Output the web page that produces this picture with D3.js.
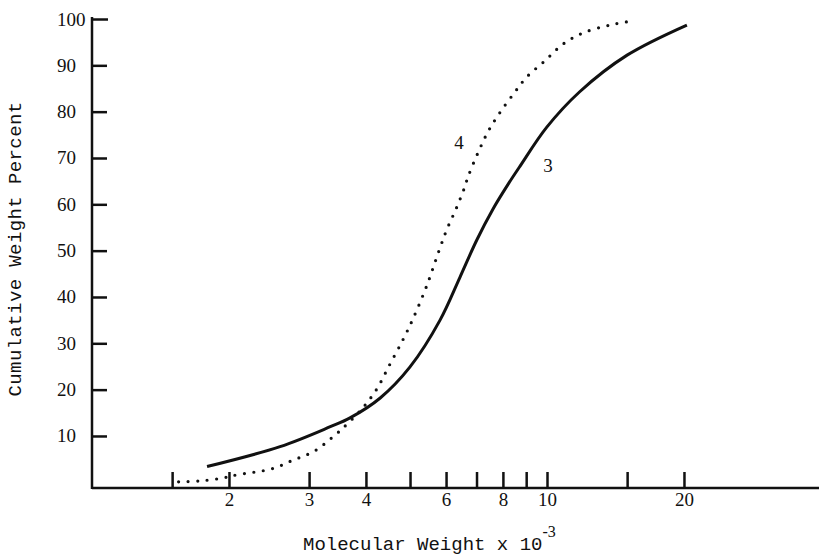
<!DOCTYPE html>
<html>
<head>
<meta charset="utf-8">
<script src="https://cdn.jsdelivr.net/npm/d3@7"></script>
<style>
  body { margin: 0; background: #fff; }
  svg { display: block; }
  .num { font-family: "Liberation Serif", serif; font-size: 19px; fill: #111; }
  .title { font-family: "Liberation Mono", monospace; font-size: 19px; fill: #111; }
</style>
</head>
<body>
<div class="chart"></div>
<script>
var svgWidth = 819;
var svgHeight = 557;

// curve 3 (solid) - molecular weight x 10^-3 and cumulative weight percent
var mw3 = [1.79, 2.59, 3.34, 3.69, 4.30, 5.00, 5.82, 6.44, 7.01, 7.61, 8.21, 8.72, 9.98, 11.8, 15.0, 20.3];
var cum3 = [3.4, 7.7, 12.0, 13.9, 18.2, 24.9, 35.0, 44.3, 52.3, 59.0, 64.3, 68.2, 76.6, 84.3, 92.2, 98.7];

// curve 4 (dotted)
var mw4 = [1.55, 1.73, 1.93, 2.08, 2.48, 2.77, 3.09, 3.42, 3.56, 3.94, 4.23, 4.50, 4.82, 5.07, 5.44, 5.79,
  6.02, 6.31, 6.57, 6.71, 7.05, 7.42, 7.88, 8.51, 9.03, 9.90, 10.85, 12.0, 13.75, 15.0];
var cum4 = [0.1, 0.3, 0.9, 1.6, 2.9, 4.8, 6.8, 10.2, 11.7, 16.1, 20.2, 25.2, 30.7, 35.2, 42.4, 50.0,
  54.5, 59.0, 63.3, 66.0, 71.1, 75.7, 79.8, 84.3, 87.5, 91.0, 94.6, 97.0, 98.7, 99.4];

// axis ticks
var xTicks = [1.5, 2, 3, 4, 5, 6, 7, 8, 9, 10, 15, 20];
var xTickLabels = [2, 3, 4, 6, 8, 10, 20];
var yTicks = [10, 20, 30, 40, 50, 60, 70, 80, 90, 100];

var svg = d3.select(".chart")
  .append("svg")
  .attr("width", svgWidth)
  .attr("height", svgHeight);

var xScale = d3.scaleLog()
  .domain([1, 40])
  .range([92, 92 + 455 * Math.log10(40)]);

var yScale = d3.scaleLinear()
  .domain([0, 100])
  .range([482.3, 19]);

var baseY = 488;

// x axis, ticks pointing up
var bottomAxis = d3.axisBottom(xScale)
  .tickValues(xTicks)
  .tickSize(-16)
  .tickSizeOuter(0)
  .tickFormat(d => xTickLabels.indexOf(d) >= 0 ? d : "");

var xAxis = svg.append("g")
  .attr("transform", `translate(0, ${baseY})`)
  .call(bottomAxis);

xAxis.select(".domain")
  .attr("d", `M92,0H819`)
  .attr("stroke", "#111")
  .attr("stroke-width", 2.5);
xAxis.selectAll(".tick line")
  .attr("stroke", "#111")
  .attr("stroke-width", 2.5);
xAxis.selectAll(".tick text")
  .attr("class", "num")
  .attr("y", 18)
  .attr("dy", 0)
  .attr("font-family", null)
  .attr("font-size", null);

// y axis, ticks pointing right
var leftAxis = d3.axisLeft(yScale)
  .tickValues(yTicks)
  .tickSize(-15)
  .tickSizeOuter(0);

var yAxis = svg.append("g")
  .attr("transform", "translate(92, 0)")
  .call(leftAxis);

yAxis.select(".domain").remove();
yAxis.append("line")
  .attr("x1", 0).attr("x2", 0)
  .attr("y1", yScale(100) - 2).attr("y2", baseY + 1)
  .attr("stroke", "#111")
  .attr("stroke-width", 2.5);
yAxis.selectAll(".tick line")
  .attr("stroke", "#111")
  .attr("stroke-width", 2.5)
  .attr("x2", d => d === 100 ? 16 : 15);
yAxis.selectAll(".tick text")
  .attr("class", "num")
  .attr("text-anchor", "start")
  .attr("x", -35)
  .attr("dy", 6)
  .attr("font-family", null)
  .attr("font-size", null);

// curves
var line = d3.line()
  .x(d => xScale(d[0]))
  .y(d => yScale(d[1]))
  .curve(d3.curveCatmullRom.alpha(0.5));

var data3 = mw3.map((m, i) => [m, cum3[i]]);
var data4 = mw4.map((m, i) => [m, cum4[i]]);

svg.append("path")
  .datum(data3)
  .attr("d", line)
  .attr("fill", "none")
  .attr("stroke", "#111")
  .attr("stroke-width", 3);

svg.append("path")
  .datum(data4)
  .attr("d", line)
  .attr("fill", "none")
  .attr("stroke", "#111")
  .attr("stroke-width", 3.2)
  .attr("stroke-linecap", "round")
  .attr("stroke-dasharray", "0 9.5");

// curve labels
svg.append("text")
  .attr("class", "num")
  .attr("x", xScale(6.41))
  .attr("y", yScale(73.4) + 7)
  .attr("text-anchor", "middle")
  .text("4");

svg.append("text")
  .attr("class", "num")
  .attr("x", xScale(10.05))
  .attr("y", yScale(68.5) + 7)
  .attr("text-anchor", "middle")
  .text("3");

// axis titles
var xTitle = svg.append("text")
  .attr("class", "title")
  .attr("x", 303)
  .attr("y", 550);
xTitle.append("tspan").text("Molecular Weight x 10");
xTitle.append("tspan")
  .attr("dy", -13)
  .attr("font-size", 16)
  .attr("font-family", "Liberation Serif, serif")
  .text("-3");

svg.append("text")
  .attr("class", "title")
  .attr("transform", "translate(21, 249) rotate(-90)")
  .attr("text-anchor", "middle")
  .attr("letter-spacing", 0.4)
  .text("Cumulative Weight Percent");
</script>
</body>
</html>
